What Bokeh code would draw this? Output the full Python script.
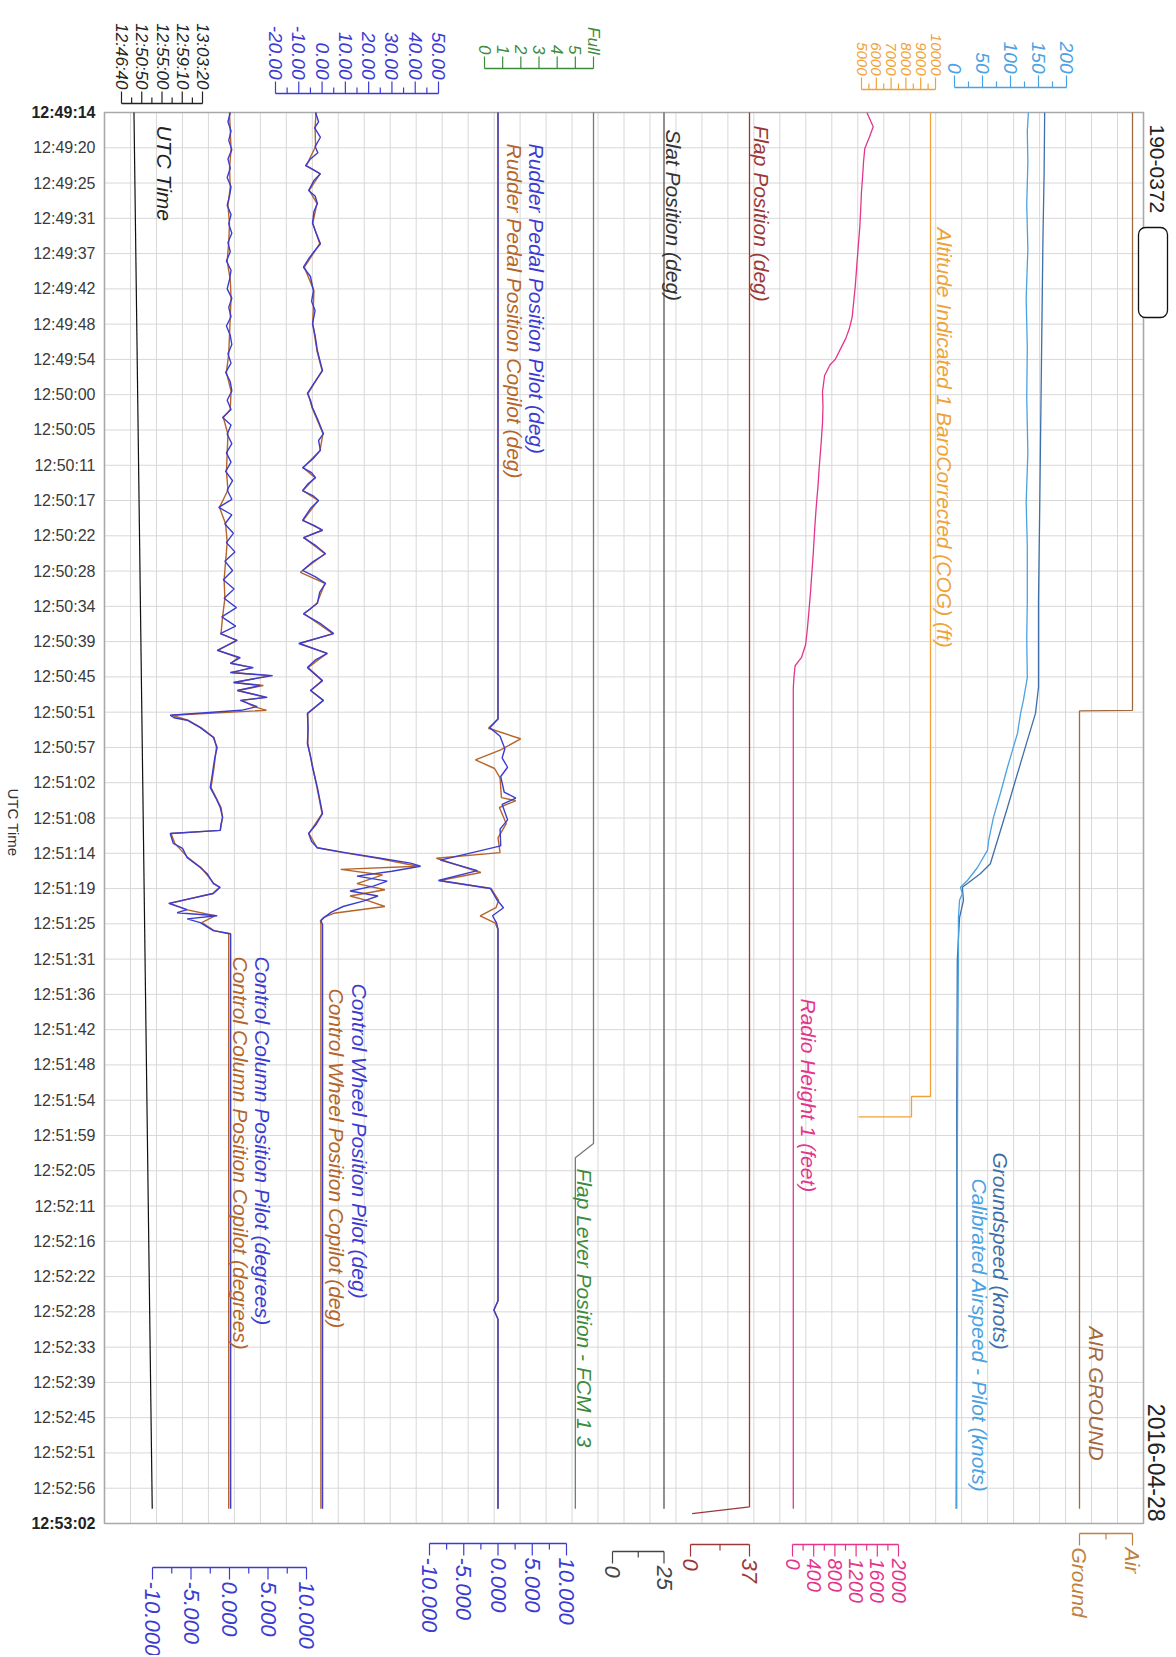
import math
from bokeh.plotting import figure
from bokeh.models import Range1d
from bokeh.embed import file_html
from bokeh.resources import INLINE
from bokeh.core.properties import value

# ------------------------------------------------------------------ data
# time axis: seconds after 12:49:14 (span 228 s, 40 grid rows)
time_labels = ["12:49:14", "12:49:20", "12:49:25", "12:49:31", "12:49:37", "12:49:42", "12:49:48",
               "12:49:54", "12:50:00", "12:50:05", "12:50:11", "12:50:17", "12:50:22", "12:50:28",
               "12:50:34", "12:50:39", "12:50:45", "12:50:51", "12:50:57", "12:51:02", "12:51:08",
               "12:51:14", "12:51:19", "12:51:25", "12:51:31", "12:51:36", "12:51:42", "12:51:48",
               "12:51:54", "12:51:59", "12:52:05", "12:52:11", "12:52:16", "12:52:22", "12:52:28",
               "12:52:33", "12:52:39", "12:52:45", "12:52:51", "12:52:56", "12:53:02"]
time_span = 228.0

utc_time = [(0, 46154), (225.6, 46379.6)]          # seconds of day

column_pilot = [(0, 0.1), (1.5, -0.2), (3, 0.2), (4.5, -0.1), (6, 0.3), (7.5, -0.2), (9, 0.1), (10.5, -0.3),
                (12, 0.2), (13.5, 0.0), (15, -0.3), (16.5, 0.2), (18, -0.1), (19.5, 0.3), (21, -0.2),
                (22.5, 0.1), (24, -0.4), (25.5, 0.2), (27, 0.0), (28.5, -0.3), (30, 0.3), (31.5, -0.1),
                (33, 0.2), (34.5, -0.4), (36, 0.1), (37.5, 0.3), (39, -0.2), (40.5, 0.2), (42, -0.5),
                (43.5, 0.1), (45, 0.3), (46.5, -0.3), (48, 0.2), (49.3, -0.9), (50.5, 0.2), (52, -0.3),
                (53.5, 0.3), (55, -0.4), (56.5, 0.2), (58, -0.5), (59.5, 0.4), (61, -0.3), (62.5, 0.3),
                (63.8, -1.4), (65, 0.3), (66.5, -0.6), (68, 0.5), (69.5, -0.4), (71, 0.7), (72.5, -0.6),
                (74, 0.4), (75.5, -0.8), (77, 0.6), (78.5, -0.7), (80, 0.9), (81.5, -1.0), (83, 0.8),
                (84.2, -1.2), (85.3, 1.0), (86.9, -1.6), (88.1, 1.4), (89.0, 0.1), (89.7, 3.1), (90.5, 0.1),
                (91.0, 5.6), (92.1, 0.5), (92.6, 4.0), (93.4, 1.0), (94.5, 4.9), (95.0, 1.4), (96.0, 3.6),
                (96.6, 1.5), (97.4, -7.7), (97.8, -7.2), (98.2, -5.5), (99.4, -3.8), (101.0, -2.1),
                (102.6, -1.6), (104.2, -1.9), (105.8, -2.1), (107.5, -2.3), (109.1, -2.5), (110.7, -1.8),
                (112.3, -1.2), (113.9, -0.9), (115.0, -1.1), (116.0, -1.2), (116.5, -7.7), (118.1, -7.3),
                (118.9, -6.1), (120.4, -5.5), (122.0, -3.8), (123.0, -2.9), (124.6, -2.1), (125.2, -1.2),
                (126.2, -2.1), (127.8, -7.9), (128.8, -5.5), (129.3, -6.8), (129.8, -1.6), (130.3, -5.5),
                (130.9, -3.8), (132.2, -2.1), (132.7, 0.15), (225.6, 0.15)]

column_copilot = [(0, 0.0), (3, 0.1), (6, 0.2), (9, 0.0), (12, 0.1), (15, -0.2), (18, 0.0), (21, -0.1),
                  (24, -0.3), (27, 0.1), (30, 0.2), (33, 0.1), (36, 0.0), (39, -0.1), (42, -0.4), (45, 0.2),
                  (48, 0.1), (49.3, -0.8), (52, -0.2), (55, -0.3), (58, -0.4), (61, -0.2), (63.8, -1.3),
                  (66.5, -0.5), (69.5, -0.3), (72.5, -0.5), (75.5, -0.7), (78.5, -0.6), (81.5, -0.9),
                  (84.2, -1.1), (85.3, 0.9), (86.9, -1.5), (88.1, 1.1), (89.0, 0.2), (89.7, 2.9), (90.5, 0.3),
                  (91.0, 5.2), (92.1, 0.6), (92.6, 4.4), (93.4, 1.1), (94.5, 4.6), (95.0, 1.6), (96.0, 3.2),
                  (96.6, 4.8), (97.4, -7.5), (98.2, -5.4), (99.4, -3.7), (101.0, -2.0), (102.6, -1.7),
                  (105.8, -2.0), (109.1, -2.4), (112.3, -1.1), (113.9, -0.9), (116.0, -1.2), (116.5, -7.6),
                  (118.1, -7.1), (120.4, -5.4), (122.0, -3.7), (124.6, -2.0), (125.2, -1.3), (126.2, -2.2),
                  (127.8, -7.7), (128.8, -5.6), (129.8, -1.9), (130.9, -3.6), (132.2, -2.0), (132.7, -0.1),
                  (225.6, -0.1)]

wheel_pilot = [(0, -2.8), (1.5, -1.5), (2.5, -3.2), (4.0, -0.7), (5.5, -3.0), (6.5, -1.8), (7.5, -5.0),
               (8.6, -7.1), (9.2, -4.0), (9.9, -0.7), (11.0, -3.5), (12.6, -5.8), (13.5, -3.0), (14.7, -2.0),
               (16.0, -3.5), (17.9, -4.1), (19.5, -2.5), (21.2, -0.7), (22.5, -3.5), (23.5, -5.5), (25.0, -8.0),
               (26.5, -5.0), (28.8, -3.7), (30.5, -4.5), (32.0, -3.0), (34.1, -4.1), (36.0, -3.0), (38.5, -2.0),
               (40.0, -1.0), (41.7, 0.2), (43.5, -3.0), (45.4, -6.3), (46.5, -5.0), (47.7, -4.1), (49.5, -2.0),
               (51.9, 0.6), (53.0, -1.5), (54.6, -0.7), (56.0, -4.0), (57.4, -8.4), (58.2, -4.5), (59.0, -2.8),
               (60.0, -6.0), (61.1, -8.4), (61.9, -4.0), (62.7, -1.5), (64.0, -5.0), (65.9, -8.4), (66.7, -3.5),
               (67.5, 0.2), (68.7, -8.0), (69.9, -3.0), (71.3, 1.5), (72.6, -4.0), (74.0, -8.4), (75.0, -3.0),
               (76.1, 1.5), (77.5, -1.0), (79.3, -2.0), (80.2, -5.0), (81.0, -8.0), (82.5, -1.0), (84.2, 5.0),
               (85.8, -10.0), (87.4, 2.3), (88.5, -3.0), (89.7, -6.3), (91.8, 0.2), (93.4, -5.0), (95.0, 0.6),
               (97.1, -6.3), (99.5, -6.0), (102.0, -6.3), (104.0, -5.0), (105.8, -4.1), (109.1, -2.0),
               (111.0, -1.0), (113.3, 0.2), (115.0, -2.5), (116.5, -5.8), (117.8, -4.5), (118.8, -2.0),
               (119.6, 10.0), (120.5, 25.0), (121.3, 38.0), (121.8, 42.3), (122.6, 30.0), (123.4, 15.0),
               (124.2, 28.0), (125.0, 22.0), (125.8, 12.0), (126.6, 24.0), (127.4, 18.0), (128.3, 9.0),
               (129.2, 4.0), (130.1, 0.8), (130.6, -0.5), (131.2, 0.2), (225.6, 0.2)]

wheel_copilot = [(0, -2.6), (2.5, -3.0), (5.5, -2.8), (8.6, -6.8), (9.9, -0.9), (12.6, -5.5), (14.7, -2.2),
                 (17.9, -4.0), (21.2, -1.0), (25.0, -7.6), (28.8, -3.5), (34.1, -4.0), (38.5, -2.2),
                 (41.7, 0.0), (45.4, -6.0), (47.7, -4.3), (51.9, 0.4), (54.6, -0.9), (57.4, -8.1), (59.0, -3.0),
                 (61.1, -8.2), (62.7, -1.7), (65.9, -8.1), (67.5, 0.0), (68.7, -7.8), (71.3, 1.2), (74.3, -9.3),
                 (76.1, 1.2), (79.3, -2.2), (81.0, -7.7), (84.2, 4.6), (85.8, -9.6), (87.4, 2.0), (89.7, -6.0),
                 (91.8, 0.0), (93.4, -4.8), (95.0, 0.4), (97.1, -6.1), (102.0, -6.1), (105.8, -4.0),
                 (109.1, -2.2), (113.3, 0.0), (116.5, -5.6), (118.8, -2.2), (119.6, 9.0), (120.5, 24.0),
                 (121.8, 41.0), (122.3, 8.0), (123.2, 26.0), (124.6, 15.0), (125.6, 27.0), (126.6, 12.0),
                 (127.4, 20.0), (128.3, 27.0), (129.4, 5.0), (130.1, 0.5), (130.6, -0.7), (131.2, -0.5),
                 (225.6, -0.5)]

rudder_pilot = [(0, 0.0), (98.0, 0.0), (99.4, -1.2), (100.8, 0.3), (102.8, 1.0), (104.3, 0.6), (105.8, 1.4),
                (107.3, 0.4), (109.8, 0.9), (110.8, 2.6), (111.8, 0.6), (114.3, 1.4), (115.8, 0.3),
                (118.5, 0.4), (120.8, -8.4), (122.5, -3.0), (124.1, -8.7), (125.4, -1.1), (127.3, -0.1),
                (128.5, 0.8), (129.8, -0.8), (131.0, -0.2), (132.0, 0.0), (192.0, 0.0), (193.5, -0.6),
                (195.0, 0.0), (225.6, 0.0)]

rudder_copilot = [(0, 0.0), (98.0, 0.0), (99.5, -1.4), (101.2, 3.3), (103.0, 0.4), (104.6, -3.3), (106.0, -0.5),
                  (107.5, 0.3), (110.7, 0.5), (111.2, 2.6), (112.3, 0.2), (114.9, 1.2), (117.2, 0.0),
                  (119.6, 0.3), (120.5, -9.0), (122.8, -2.5), (124.1, -8.5), (125.4, -1.0), (127.3, 0.1),
                  (128.5, -0.3), (129.8, -2.6), (131.0, -0.4), (132.0, 0.0), (192.0, 0.0), (193.5, -0.6),
                  (195.0, 0.0), (225.6, 0.0)]

flap_lever = [(0, 6), (166.6, 6), (168.9, 5), (225.6, 5)]         # 6 = "Full"
slat_position = [(0, 25), (225.6, 25)]
flap_position = [(0, 37), (225.3, 37), (226.4, 1)]

radio_height = [(0, 1404), (2.3, 1523), (4.0, 1450), (5.8, 1364), (8.0, 1340), (10.1, 1325), (13.0, 1300),
                (16.0, 1285), (18.5, 1270), (21.2, 1245), (24.5, 1215), (28.0, 1185), (31.0, 1150),
                (33.1, 1125), (35.0, 1070), (36.5, 1005), (38.2, 906), (39.9, 806), (40.8, 706), (42.5, 606),
                (45.1, 566), (47.5, 575), (50.2, 566), (53.5, 540), (57.0, 507), (60.5, 480), (63.8, 447),
                (66.5, 425), (69.0, 407), (71.5, 390), (74.1, 368), (77.5, 340), (80.9, 307), (83.5, 280),
                (86.0, 247), (88.1, 168), (89.4, 49), (91.2, 28), (93.0, 15), (225.6, 15)]

altitude = [(0, 9662), (159.0, 9662), (159.0, 8378), (162.3, 8378), (162.3, 4800)]

airspeed_cas = [(0, 132), (3, 130), (8, 131), (15, 129), (22, 131), (30, 128), (38, 130), (46, 129),
                (55, 131), (63, 128), (70, 130), (78.9, 130), (85, 129), (91.3, 130), (95.0, 123),
                (97.1, 118), (100.3, 112.5), (105.8, 94.6), (110.0, 82), (113.9, 69.6), (117.6, 61),
                (119.2, 59), (122.0, 41), (124.1, 23), (125.2, 10.7), (126.2, 14), (127.3, 9), (130.1, 7),
                (137, 7), (150, 6), (170, 5), (190, 5), (210, 4), (225.6, 4)]

groundspeed = [(0, 161), (10, 160), (20, 158), (35, 156), (50, 154), (65, 152), (78.9, 150), (92.9, 150),
               (97.1, 144.6), (101.5, 130), (106.8, 112.5), (112.3, 94.6), (117.6, 76.8), (121.4, 64),
               (123.0, 46), (124.6, 23), (125.2, 14), (127.3, 16), (130.1, 9), (137, 5), (160, 4),
               (190, 4), (225.6, 3)]

air_ground = [(0, 1), (96.6, 1), (96.7, 0), (225.6, 0)]           # 1 = Air, 0 = Ground

# axis tick values / labels
utc_ticks = [46000, 46250, 46500, 46750, 47000]
utc_tick_labels = ["12:46:40", "12:50:50", "12:55:00", "12:59:10", "13:03:20"]
wheel_ticks = [-20, -10, 0, 10, 20, 30, 40, 50]
wheel_tick_labels = ["-20.00", "-10.00", "0.00", "10.00", "20.00", "30.00", "40.00", "50.00"]
lever_ticks = [0, 1, 2, 3, 4, 5, 6]
lever_tick_labels = ["0", "1", "2", "3", "4", "5", "Full"]
alt_ticks = [5000, 6000, 7000, 8000, 9000, 10000]
alt_tick_labels = ["5000", "6000", "7000", "8000", "9000", "10000"]
spd_ticks = [0, 50, 100, 150, 200]
spd_tick_labels = ["0", "50", "100", "150", "200"]
col_ticks = [-10, -5, 0, 5, 10]
col_tick_labels = ["-10.000", "-5.000", "0.000", "5.000", "10.000"]
slat_ticks = [0, 25]
slat_tick_labels = ["0", "25"]
flap_ticks = [0, 37]
flap_tick_labels = ["0", "37"]
radio_ticks = [0, 400, 800, 1200, 1600, 2000]
radio_tick_labels = ["0", "400", "800", "1200", "1600", "2000"]
ag_ticks = [0, 1]
ag_tick_labels = ["Ground", "Air"]

# ------------------------------------------------------------------ layout (page pixels)
OFF = 0
W, H = 1172, 1655
FL, FR, FT, FB = 104, 1143, 112, 1523
NCOL = 40
FONT = value("Liberation Sans")

BLUE = "#3c3cd2"
BROWN = "#b5642a"
GREEN = "#3d8b3d"
LEVER = "#6f7f6f"
SLAT = "#555555"
FLAP = "#9a3838"
PINK = "#e4358c"
ORANGE = "#f0a238"
SKY = "#4aa2e2"
GSBLUE = "#3e6fa8"
AG = "#a26a3c"
GRID = "#d8d8d8"


def ty(py):
    return (py - FT) * time_span / (FB - FT)


def cx(px):
    return (px - FL) * NCOL / (FR - FL)


def vrange(v0, px0, v1, px1):
    s = (v1 - v0) / (px1 - px0)
    return Range1d(v0 + (OFF - px0) * s, v0 + (OFF + W - px0) * s)


p = figure(width=W, height=H, output_backend="svg", toolbar_location=None,
           x_range=Range1d(cx(OFF), cx(OFF + W)), y_range=Range1d(ty(OFF + H), ty(OFF)),
           x_axis_type=None, y_axis_type=None, min_border=0)
p.outline_line_color = None
p.grid.visible = False
p.background_fill_color = "white"
p.border_fill_color = "white"

p.extra_x_ranges = {
    "utc": vrange(46000, 121, 47000, 202),
    "wheel": vrange(-20, 275, 50, 438),
    "lever": vrange(0, 484, 6, 593),
    "alt": vrange(5000, 861, 10000, 935),
    "spd": vrange(0, 954, 200, 1066),
    "col": vrange(-10, 152, 10, 306),
    "rud": vrange(-10, 429, 10, 566),
    "slat": vrange(0, 612, 25, 663.5),
    "flap": vrange(0, 690, 37, 749),
    "radio": vrange(0, 792, 2000, 898),
    "ag": vrange(0, 1079, 1, 1132),
}

# ------------------------------------------------------------------ grid + frame
rows = [i * time_span / 40 for i in range(41)]
cols = list(range(NCOL + 1))
p.segment(x0=cols[1:-1], x1=cols[1:-1], y0=[0] * (NCOL - 1), y1=[time_span] * (NCOL - 1),
          line_color=GRID, line_width=1)
p.segment(x0=[0] * 39, x1=[NCOL] * 39, y0=rows[1:-1], y1=rows[1:-1], line_color=GRID, line_width=1)
p.quad(left=[0], right=[NCOL], top=[0], bottom=[time_span], fill_color=None,
       line_color="#a9a9a9", line_width=1.6)

# time labels (left)
p.text(x=[cx(95)] * 39, y=rows[1:-1], text=time_labels[1:-1], text_font=FONT, text_font_size="16px",
       text_color="#3a3a3a", text_align="right", text_baseline="middle")
p.text(x=[cx(95)] * 2, y=[rows[0], rows[-1]], text=[time_labels[0], time_labels[-1]], text_font=FONT,
       text_font_size="16px", text_font_style="bold", text_color="#222222", text_align="right",
       text_baseline="middle")
p.text(x=[cx(13)], y=[ty(822)], text=["UTC Time"], angle=-math.pi / 2, text_font=FONT,
       text_font_size="15px", text_color="#333333", text_align="center", text_baseline="middle")


# ------------------------------------------------------------------ value axes
def axis(rn, py, side, ticks, labels, minors, color, fsize):
    d = -1 if side == "top" else 1
    y0 = ty(py)
    p.segment(x0=[ticks[0]], x1=[ticks[-1]], y0=[y0], y1=[y0], x_range_name=rn,
              line_color=color, line_width=1.3)
    n = len(ticks)
    p.segment(x0=ticks, x1=ticks, y0=[y0] * n, y1=[ty(py + d * 12)] * n, x_range_name=rn,
              line_color=color, line_width=1.2)
    if minors:
        m = len(minors)
        p.segment(x0=minors, x1=minors, y0=[y0] * m, y1=[ty(py + d * 6)] * m, x_range_name=rn,
                  line_color=color, line_width=1.2)
    p.text(x=ticks, y=[ty(py + d * 14)] * n, text=labels, x_range_name=rn, angle=-math.pi / 2,
           text_font=FONT, text_font_size=fsize, text_font_style="italic", text_color=color,
           text_align="right" if side == "top" else "left", text_baseline="middle")


axis("utc", 103, "top", utc_ticks, utc_tick_labels, [46125, 46375, 46625, 46875], "#222222", "17px")
axis("wheel", 93, "top", wheel_ticks, wheel_tick_labels, [-15, -5, 5, 15, 25, 35, 45], BLUE, "19px")
axis("lever", 68, "top", lever_ticks, lever_tick_labels, [], GREEN, "17px")
axis("alt", 89, "top", alt_ticks, alt_tick_labels, [5500, 6500, 7500, 8500, 9500], ORANGE, "15px")
axis("spd", 87, "top", spd_ticks, spd_tick_labels, [25, 75, 125, 175], SKY, "19px")
axis("col", 1567, "bottom", col_ticks, col_tick_labels, [-7.5, -2.5, 2.5, 7.5], BLUE, "22px")
axis("rud", 1543, "bottom", col_ticks, col_tick_labels, [-7.5, -2.5, 2.5, 7.5], BLUE, "22px")
axis("slat", 1551, "bottom", slat_ticks, slat_tick_labels, [12.5], "#444444", "22px")
axis("flap", 1544, "bottom", flap_ticks, flap_tick_labels, [18.5], FLAP, "22px")
axis("radio", 1544, "bottom", radio_ticks, radio_tick_labels, [200, 600, 1000, 1400, 1800], PINK, "20px")
axis("ag", 1533, "bottom", ag_ticks, ag_tick_labels, [0.5], "#c08040", "21px")


# ------------------------------------------------------------------ traces
def trace(data, rn, color, width=1.3):
    ts = [d[0] for d in data]
    vs = [d[1] for d in data]
    p.line(x=vs, y=ts, x_range_name=rn, line_color=color, line_width=width)


trace(utc_time, "utc", "#111111", 1.2)
trace(column_copilot, "col", BROWN, 1.4)
trace(column_pilot, "col", BLUE, 1.4)
trace(wheel_copilot, "wheel", BROWN, 1.4)
trace(wheel_pilot, "wheel", BLUE, 1.4)
trace(rudder_copilot, "rud", BROWN, 1.4)
trace(rudder_pilot, "rud", BLUE, 1.4)
trace(flap_lever, "lever", LEVER, 1.3)
trace(slat_position, "slat", SLAT, 1.3)
trace(flap_position, "flap", FLAP, 1.3)
trace(radio_height, "radio", PINK, 1.3)
trace(altitude, "alt", ORANGE, 1.3)
trace(groundspeed, "spd", GSBLUE, 1.3)
trace(airspeed_cas, "spd", SKY, 1.3)
trace(air_ground, "ag", AG, 1.3)

# ------------------------------------------------------------------ series names (rotated, italic)
names = [
    ("UTC Time", 164, 125, "#222222"),
    ("Rudder Pedal Position Pilot (deg)", 536, 143, BLUE),
    ("Rudder Pedal Position Copilot (deg)", 514, 143, BROWN),
    ("Slat Position (deg)", 673, 129, "#333333"),
    ("Flap Position (deg)", 761, 125, FLAP),
    ("Altitude Indicated 1 BaroCorrected (COG) (ft)", 944, 227, ORANGE),
    ("Control Column Position Pilot (degrees)", 262, 956, BLUE),
    ("Control Column Position Copilot (degrees)", 240, 956, BROWN),
    ("Control Wheel Position Pilot (deg)", 359, 983, BLUE),
    ("Control Wheel Position Copilot (deg)", 336, 988, BROWN),
    ("Flap Lever Position - FCM 1 3", 584, 1168, GREEN),
    ("Radio Height 1 (feet)", 808, 998, PINK),
    ("Groundspeed (knots)", 1000, 1152, GSBLUE),
    ("Calibrated Airspeed - Pilot (knots)", 979, 1178, SKY),
    ("AIR GROUND", 1096, 1326, AG),
]
for txt, px, py, col in names:
    p.text(x=[cx(px)], y=[ty(py)], text=[txt], angle=-math.pi / 2, text_font=FONT,
           text_font_size="21px", text_font_style="italic", text_color=col,
           text_align="left", text_baseline="middle")

# right side identifiers and redaction box
p.text(x=[cx(1156)], y=[ty(124)], text=["190-0372"], angle=-math.pi / 2, text_font=FONT,
       text_font_size="21px", text_color="#222222", text_align="left", text_baseline="middle")
p.text(x=[cx(1156)], y=[ty(1521)], text=["2016-04-28"], angle=-math.pi / 2, text_font=FONT,
       text_font_size="23px", text_color="#222222", text_align="right", text_baseline="middle")
p.quad(left=[cx(1138)], right=[cx(1167)], top=[ty(227)], bottom=[ty(317)], fill_color="white",
       line_color="#111111", line_width=1.3, border_radius=7)

open("out.html", "w").write(file_html(p, INLINE))
